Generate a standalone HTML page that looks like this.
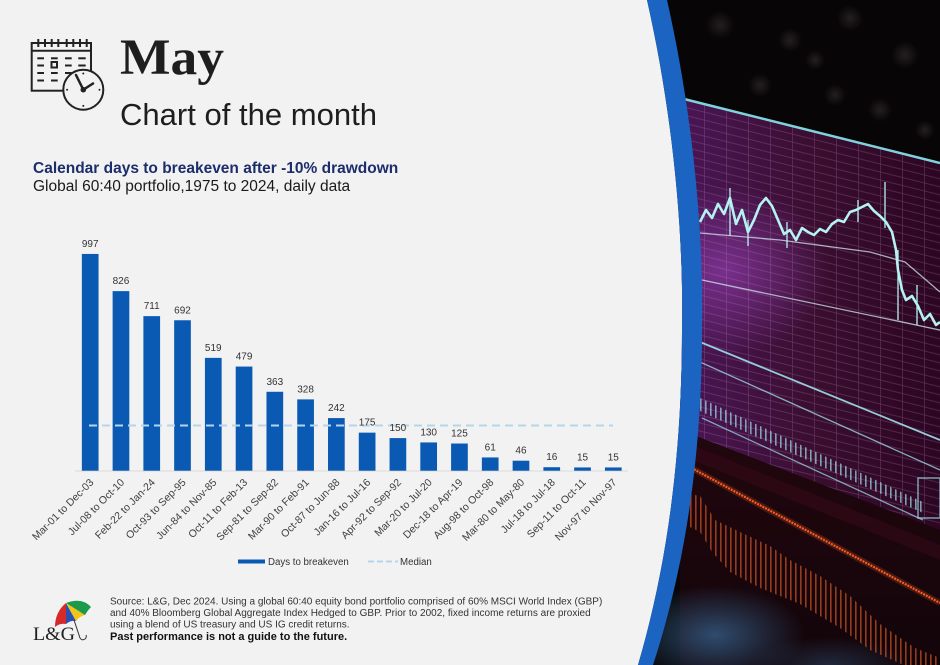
<!DOCTYPE html>
<html>
<head>
<meta charset="utf-8">
<style>
  html,body{margin:0;padding:0;background:#f2f2f2;}
  body{width:940px;height:665px;overflow:hidden;}
  svg{display:block;}
  .sans{font-family:"Liberation Sans",Arial,sans-serif;}
  .serif{font-family:"Liberation Serif","Times New Roman",serif;}
</style>
</head>
<body>
<svg width="940" height="665" viewBox="0 0 940 665" xmlns="http://www.w3.org/2000/svg">
  <defs>
    <clipPath id="imgclip">
      <path d="M647,0 C672,110 684,230 682,330 C682,460 666,570 638,665 L940,665 L940,0 Z"/>
    </clipPath>
    <clipPath id="panelclip">
      <polygon points="680,98 940,162 940,530 680,430"/>
    </clipPath>
    <pattern id="grid" width="22" height="8" patternUnits="userSpaceOnUse" patternTransform="skewY(14)">
      <path d="M0 0.5H22M0.5 0V8" stroke="#c98fc4" stroke-width="0.7" fill="none"/>
    </pattern>
    <pattern id="ostripes" width="5" height="10" patternUnits="userSpaceOnUse">
      <rect x="0" y="0" width="1.6" height="10" fill="#e8602a"/>
    </pattern>
    <pattern id="cstripes" width="5" height="10" patternUnits="userSpaceOnUse">
      <rect x="0" y="0" width="1.6" height="10" fill="#9fdcea"/>
    </pattern>
    <linearGradient id="panelg" x1="0" y1="0" x2="1" y2="0">
      <stop offset="0" stop-color="#4a1656"/>
      <stop offset="0.5" stop-color="#3a0e30"/>
      <stop offset="1" stop-color="#2c0622"/>
    </linearGradient>
    <linearGradient id="lowg" x1="0" y1="0" x2="0" y2="1">
      <stop offset="0" stop-color="#22070e"/>
      <stop offset="1" stop-color="#12050a"/>
    </linearGradient>
    <radialGradient id="glow" cx="0.5" cy="0.5" r="0.5">
      <stop offset="0" stop-color="#8e3ca8" stop-opacity="0.7"/>
      <stop offset="1" stop-color="#8e3ca8" stop-opacity="0"/>
    </radialGradient>
    <radialGradient id="bluehaze" cx="0.5" cy="0.5" r="0.5">
      <stop offset="0" stop-color="#3a6a98" stop-opacity="0.7"/>
      <stop offset="1" stop-color="#3a6a98" stop-opacity="0"/>
    </radialGradient>
    <radialGradient id="bokeh" cx="0.5" cy="0.5" r="0.5">
      <stop offset="0" stop-color="#2a2626" stop-opacity="0.8"/>
      <stop offset="1" stop-color="#2a2626" stop-opacity="0"/>
    </radialGradient>
  </defs>

  <rect x="0" y="0" width="940" height="665" fill="#f2f2f2"/>

  <!-- right image -->
  <g clip-path="url(#imgclip)">
    <rect x="630" y="0" width="310" height="665" fill="#080507"/>
    <circle cx="720" cy="25" r="14" fill="url(#bokeh)"/>
    <circle cx="790" cy="40" r="12" fill="url(#bokeh)"/>
    <circle cx="850" cy="18" r="13" fill="url(#bokeh)"/>
    <circle cx="905" cy="55" r="14" fill="url(#bokeh)"/>
    <circle cx="760" cy="85" r="12" fill="url(#bokeh)"/>
    <circle cx="835" cy="95" r="11" fill="url(#bokeh)"/>
    <circle cx="815" cy="60" r="10" fill="url(#bokeh)"/>
    <circle cx="880" cy="110" r="12" fill="url(#bokeh)"/>
    <circle cx="925" cy="130" r="10" fill="url(#bokeh)"/>
    <polygon points="680,98 940,162 940,530 680,430" fill="url(#panelg)"/>
    <ellipse cx="725" cy="270" rx="105" ry="85" fill="url(#glow)"/>
    <rect x="680" y="90" width="260" height="450" fill="url(#grid)" clip-path="url(#panelclip)" opacity="0.3"/>
    <polygon points="680,430 940,530 940,665 680,665" fill="url(#lowg)"/>
    <polygon points="680,440 940,545 940,560 680,455" fill="#3a0a1a" opacity="0.5"/>
    <ellipse cx="715" cy="635" rx="90" ry="50" fill="url(#bluehaze)"/>
    <ellipse cx="830" cy="665" rx="80" ry="28" fill="url(#bluehaze)" opacity="0.5"/>
    <line x1="684" y1="99" x2="940" y2="163" stroke="#7fd3de" stroke-width="2.5"/>
    <polyline fill="none" stroke="#b6f2f2" stroke-width="2.6" stroke-linejoin="round"
      points="700,222 706,210 712,218 718,204 724,214 730,198 736,224 742,210 748,232 754,220 760,205 766,198 772,206 778,220 784,234 790,230 796,240 802,228 808,232 814,235 820,229 826,232 832,224 838,220 844,222 850,212 856,210 862,207 868,204 874,211 880,216 886,222 892,232 896,250 898,270 902,290 906,300 912,296 918,306 924,320 930,314 936,325 940,322"/>
    <g stroke="#b6f2f2" stroke-width="1.3">
      <line x1="730" y1="188" x2="730" y2="236"/>
      <line x1="748" y1="220" x2="748" y2="246"/>
      <line x1="787" y1="222" x2="787" y2="248"/>
      <line x1="858" y1="200" x2="858" y2="222"/>
      <line x1="885" y1="182" x2="885" y2="228"/>
      <line x1="898" y1="250" x2="898" y2="320"/>
      <line x1="917" y1="285" x2="917" y2="325"/>
    </g>
    <polyline fill="none" stroke="#cfe6ee" stroke-width="1.3" opacity="0.75" points="700,233 780,240 870,252 905,262 940,292"/>
    <line x1="702" y1="280" x2="940" y2="330" stroke="#cfe6ee" stroke-width="1.3" opacity="0.75"/>
    <line x1="700" y1="342" x2="940" y2="440" stroke="#9fe0ea" stroke-width="1.8" opacity="0.9"/>
    <line x1="700" y1="362" x2="940" y2="470" stroke="#9fe0ea" stroke-width="1.3" opacity="0.75"/>
    <polygon points="700,398 925,503 925,514 700,411" fill="url(#cstripes)" opacity="0.7"/>
    <line x1="702" y1="418" x2="923" y2="520" stroke="#9fe0ea" stroke-width="1.3" opacity="0.7"/>
    <rect x="918" y="478" width="22" height="40" fill="none" stroke="#9fe0ea" stroke-width="1.5" opacity="0.7"/>
    <line x1="686" y1="465" x2="940" y2="603" stroke="#ff6a30" stroke-width="6" opacity="0.2"/>
    <line x1="686" y1="465" x2="940" y2="603" stroke="#ff5a20" stroke-width="2.2" stroke-dasharray="2,1"/>
    <polygon points="680,492 700,496 715,520 740,532 770,546 790,560 820,576 850,596 880,624 915,648 940,658 940,672 910,668 870,650 840,628 800,604 760,588 730,572 712,552 700,532 680,522" fill="url(#ostripes)" opacity="0.6"/>
  </g>

  <!-- blue curved band -->
  <path d="M647,0 C672,110 684,230 682,330 C682,460 666,570 638,665 L653,665 C684,570 702,460 702,330 C704,230 692,110 667,0 Z" fill="#1c64c2"/>

  <!-- calendar icon -->
  <g stroke="#222" stroke-width="2" fill="none">
    <rect x="31.7" y="43" width="59.3" height="47.7"/>
    <line x1="31.7" y1="50.7" x2="91" y2="50.7"/>
    <line x1="38.3" y1="39" x2="38.3" y2="47"/>
    <line x1="45" y1="39" x2="45" y2="47"/>
    <line x1="51.7" y1="39" x2="51.7" y2="47"/>
    <line x1="58.3" y1="39" x2="58.3" y2="47"/>
    <line x1="66.7" y1="39" x2="66.7" y2="47"/>
    <line x1="73.3" y1="39" x2="73.3" y2="47"/>
    <line x1="80" y1="39" x2="80" y2="47"/>
    <line x1="86.7" y1="39" x2="86.7" y2="47"/>
    <line x1="37.3" y1="58.3" x2="44" y2="58.3"/>
    <line x1="51" y1="58.3" x2="57.7" y2="58.3"/>
    <line x1="65" y1="58.3" x2="71.7" y2="58.3"/>
    <line x1="78.3" y1="58.3" x2="85.7" y2="58.3"/>
    <line x1="37.3" y1="65.5" x2="44" y2="65.5"/>
    <rect x="51.5" y="62" width="5.5" height="5.5"/>
    <line x1="65" y1="65.5" x2="71.7" y2="65.5"/>
    <line x1="78.3" y1="65.5" x2="85.7" y2="65.5"/>
    <line x1="37.3" y1="73" x2="44" y2="73"/>
    <line x1="51" y1="73" x2="57.7" y2="73"/>
    <line x1="65" y1="73" x2="71.7" y2="73"/>
    <line x1="37.3" y1="80.5" x2="44" y2="80.5"/>
    <line x1="51" y1="80.5" x2="57.7" y2="80.5"/>
  </g>
  <circle cx="83.3" cy="89.7" r="20" fill="#f2f2f2" stroke="#222" stroke-width="2"/>
  <g stroke="#222" stroke-width="2.5" stroke-linecap="round">
    <line x1="83.3" y1="89.7" x2="76" y2="75"/>
    <line x1="83.3" y1="89.7" x2="93" y2="83.5"/>
  </g>
  <circle cx="83.3" cy="89.7" r="2.8" fill="#222"/>
  <g fill="#222">
    <circle cx="83.3" cy="73.5" r="1"/>
    <circle cx="99.5" cy="89.7" r="1"/>
    <circle cx="83.3" cy="105.9" r="1"/>
    <circle cx="67.1" cy="89.7" r="1"/>
  </g>

  <!-- headings -->
  <text x="120" y="74" class="serif" font-weight="bold" font-size="51" fill="#1e1e1e" textLength="104" lengthAdjust="spacingAndGlyphs">May</text>
  <text x="120" y="125" class="sans" font-size="30.5" fill="#1e1e1e" textLength="257" lengthAdjust="spacingAndGlyphs">Chart of the month</text>
  <text x="33" y="173" class="sans" font-weight="bold" font-size="15.5" fill="#1c2d6b">Calendar days to breakeven after -10% drawdown</text>
  <text x="33" y="191" class="sans" font-size="15.5" fill="#1a1a1a">Global 60:40 portfolio,1975 to 2024, daily data</text>

  <!-- axis -->
  <line x1="75" y1="471" x2="628" y2="471" stroke="#d9d9d9" stroke-width="1"/>

  <!-- bars -->
  <g fill="#0a5ab4">
    <rect x="81.85" y="253.95" width="16.7" height="216.75"/>
    <rect x="112.62" y="291.13" width="16.7" height="179.57"/>
    <rect x="143.39" y="316.13" width="16.7" height="154.57"/>
    <rect x="174.16" y="320.26" width="16.7" height="150.44"/>
    <rect x="204.93" y="357.87" width="16.7" height="112.83"/>
    <rect x="235.70" y="366.57" width="16.7" height="104.13"/>
    <rect x="266.47" y="391.78" width="16.7" height="78.92"/>
    <rect x="297.24" y="399.39" width="16.7" height="71.31"/>
    <rect x="328.01" y="418.09" width="16.7" height="52.61"/>
    <rect x="358.78" y="432.65" width="16.7" height="38.05"/>
    <rect x="389.55" y="438.09" width="16.7" height="32.61"/>
    <rect x="420.32" y="442.44" width="16.7" height="28.26"/>
    <rect x="451.09" y="443.52" width="16.7" height="27.18"/>
    <rect x="481.86" y="457.44" width="16.7" height="13.26"/>
    <rect x="512.63" y="460.70" width="16.7" height="10.00"/>
    <rect x="543.40" y="467.22" width="16.7" height="3.48"/>
    <rect x="574.17" y="467.44" width="16.7" height="3.26"/>
    <rect x="604.94" y="467.44" width="16.7" height="3.26"/>
  </g>

  <!-- median -->
  <line x1="89" y1="425.5" x2="613" y2="425.5" stroke="#b4d6ec" stroke-width="2" stroke-dasharray="8,5"/>

  <!-- value labels -->
  <g class="sans" font-size="10" fill="#333" text-anchor="middle">
    <text x="90.2" y="246.9">997</text>
    <text x="120.97" y="284.1">826</text>
    <text x="151.74" y="309.1">711</text>
    <text x="182.51" y="313.3">692</text>
    <text x="213.28" y="350.9">519</text>
    <text x="244.05" y="359.6">479</text>
    <text x="274.82" y="384.8">363</text>
    <text x="305.59" y="392.4">328</text>
    <text x="336.36" y="411.1">242</text>
    <text x="367.13" y="425.6">175</text>
    <text x="397.90" y="431.1">150</text>
    <text x="428.67" y="435.4">130</text>
    <text x="459.44" y="436.5">125</text>
    <text x="490.21" y="450.4">61</text>
    <text x="520.98" y="453.7">46</text>
    <text x="551.75" y="460.2">16</text>
    <text x="582.52" y="460.4">15</text>
    <text x="613.29" y="460.4">15</text>
  </g>

  <!-- x labels -->
  <g class="sans" font-size="10.5" fill="#404040" text-anchor="end">
    <text transform="translate(94.2,483) rotate(-45)">Mar-01 to Dec-03</text>
    <text transform="translate(124.97,483) rotate(-45)">Jul-08 to Oct-10</text>
    <text transform="translate(155.74,483) rotate(-45)">Feb-22 to Jan-24</text>
    <text transform="translate(186.51,483) rotate(-45)">Oct-93 to Sep-95</text>
    <text transform="translate(217.28,483) rotate(-45)">Jun-84 to Nov-85</text>
    <text transform="translate(248.05,483) rotate(-45)">Oct-11 to Feb-13</text>
    <text transform="translate(278.82,483) rotate(-45)">Sep-81 to Sep-82</text>
    <text transform="translate(309.59,483) rotate(-45)">Mar-90 to Feb-91</text>
    <text transform="translate(340.36,483) rotate(-45)">Oct-87 to Jun-88</text>
    <text transform="translate(371.13,483) rotate(-45)">Jan-16 to Jul-16</text>
    <text transform="translate(401.90,483) rotate(-45)">Apr-92 to Sep-92</text>
    <text transform="translate(432.67,483) rotate(-45)">Mar-20 to Jul-20</text>
    <text transform="translate(463.44,483) rotate(-45)">Dec-18 to Apr-19</text>
    <text transform="translate(494.21,483) rotate(-45)">Aug-98 to Oct-98</text>
    <text transform="translate(524.98,483) rotate(-45)">Mar-80 to May-80</text>
    <text transform="translate(555.75,483) rotate(-45)">Jul-18 to Jul-18</text>
    <text transform="translate(586.52,483) rotate(-45)">Sep-11 to Oct-11</text>
    <text transform="translate(617.29,483) rotate(-45)">Nov-97 to Nov-97</text>
  </g>

  <!-- legend -->
  <rect x="238" y="559.5" width="27" height="4" fill="#0a5ab4"/>
  <text x="268" y="565" class="sans" font-size="9.7" fill="#333">Days to breakeven</text>
  <line x1="368" y1="561.5" x2="398" y2="561.5" stroke="#b4d6ec" stroke-width="2" stroke-dasharray="6,3"/>
  <text x="400" y="565" class="sans" font-size="9.7" fill="#333">Median</text>

  <!-- L&G logo -->
  <g>
    <path d="M66,603 Q55,612 55,627 Q60,623 66,624 Z" fill="#d42a2a"/>
    <path d="M66,603 L66,624 Q71,620 76,621 Z" fill="#2a4fb0"/>
    <path d="M66,603 L76,621 Q80,616 85,615 Z" fill="#f2c418"/>
    <path d="M66,603 L85,615 Q88,610 91,607 Q82,597 66,603 Z" fill="#1a9a4a"/>
    <path d="M74,620 L80,638 Q82,641 85,639 Q87,637 86,635" fill="none" stroke="#333" stroke-width="1"/>
  </g>
  <text x="33" y="640" class="serif" font-size="19" fill="#222" textLength="42" lengthAdjust="spacingAndGlyphs">L&amp;G</text>

  <!-- footer -->
  <g class="sans" fill="#333" font-size="10">
    <text x="110" y="604.5">Source: L&amp;G, Dec 2024. Using a global 60:40 equity bond portfolio comprised of 60% MSCI World Index (GBP)</text>
    <text x="110" y="616">and 40% Bloomberg Global Aggregate Index Hedged to GBP. Prior to 2002, fixed income returns are proxied</text>
    <text x="110" y="627.5">using a blend of US treasury and US IG credit returns.</text>
  </g>
  <text x="110" y="640" class="sans" font-weight="bold" font-size="11" fill="#111">Past performance is not a guide to the future.</text>
</svg>
</body>
</html>
